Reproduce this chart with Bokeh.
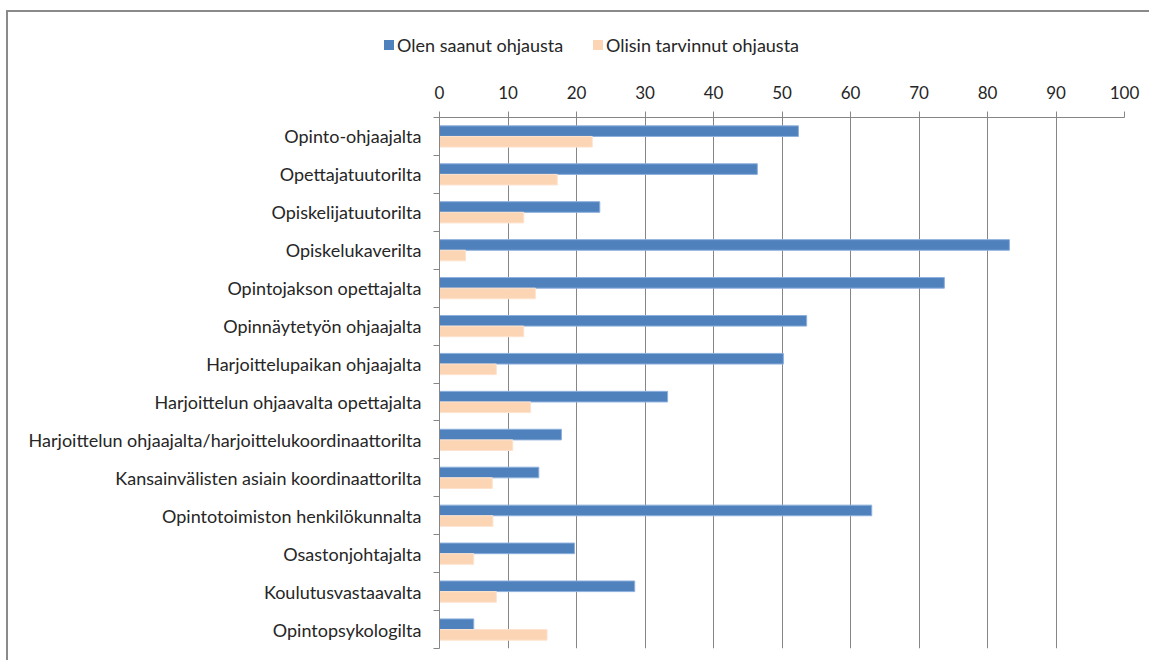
from bokeh.plotting import figure
from bokeh.layouts import column
from bokeh.models import Range1d, FixedTicker, Div
from bokeh.embed import file_html
from bokeh.resources import INLINE

categories = [
    "Opinto-ohjaajalta",
    "Opettajatuutorilta",
    "Opiskelijatuutorilta",
    "Opiskelukaverilta",
    "Opintojakson opettajalta",
    "Opinnäytetyön ohjaajalta",
    "Harjoittelupaikan ohjaajalta",
    "Harjoittelun ohjaavalta opettajalta",
    "Harjoittelun ohjaajalta/harjoittelukoordinaattorilta",
    "Kansainvälisten asiain koordinaattorilta",
    "Opintotoimiston henkilökunnalta",
    "Osastonjohtajalta",
    "Koulutusvastaavalta",
    "Opintopsykologilta",
]
saanut = [52.4, 46.4, 23.4, 83.2, 73.7, 53.6, 50.2, 33.3, 17.8, 14.5, 63.1, 19.7, 28.5, 5.0]
tarvinnut = [22.3, 17.2, 12.3, 3.8, 14.0, 12.3, 8.3, 13.3, 10.7, 7.7, 7.8, 5.0, 8.3, 15.7]
series_names = ["Olen saanut ohjausta", "Olisin tarvinnut ohjausta"]
x_ticks = list(range(0, 101, 10))

FONT = "Lato"
BLUE = "#4F81BD"
PEACH = "#FCD5B5"
GRAY = "#868686"
TXT = "#262626"
series_colors = [BLUE, PEACH]

n = len(categories)
centers = [n - 1 - i for i in range(n)]
y_blue = [c + 0.14 for c in centers]
y_peach = [c - 0.14 for c in centers]

# main chart
p = figure(width=1141, height=582, output_backend="svg", toolbar_location=None,
           x_range=Range1d(0, 100), y_range=Range1d(-0.5, n - 0.5),
           x_axis_location="above", min_border_left=431, min_border_right=25,
           min_border_top=39, min_border_bottom=12)
p.outline_line_color = None

p.hbar(y=y_blue, right=saanut, left=0, height=0.28,
       fill_color=BLUE, line_color="#8DB0DD", line_width=1)
p.hbar(y=y_peach, right=tarvinnut, left=0, height=0.28,
       fill_color=PEACH, line_color="#FDE3CF", line_width=1)

xa = p.xaxis[0]
xa.ticker = FixedTicker(ticks=x_ticks, minor_ticks=[])
xa.axis_line_color = GRAY
xa.major_tick_line_color = GRAY
xa.major_tick_out = 6
xa.major_tick_in = 0
xa.minor_tick_line_color = None
xa.major_label_standoff = 13
xa.major_label_text_font = FONT
xa.major_label_text_font_size = "17px"
xa.major_label_text_color = TXT

ya = p.yaxis[0]
ya.ticker = FixedTicker(ticks=centers, minor_ticks=[c - 0.5 for c in centers] + [n - 0.5])
ya.major_label_overrides = {c: categories[i] for i, c in enumerate(centers)}
ya.axis_line_color = GRAY
ya.major_tick_line_color = None
ya.major_tick_out = 0
ya.major_tick_in = 0
ya.minor_tick_line_color = GRAY
ya.minor_tick_out = 6
ya.minor_tick_in = 0
ya.major_label_standoff = 12
ya.major_label_text_font = FONT
ya.major_label_text_font_size = "18px"
ya.major_label_text_color = TXT

p.xgrid.ticker = FixedTicker(ticks=x_ticks[1:])
p.xgrid.grid_line_color = GRAY
p.ygrid.grid_line_color = None

# legend strip above the chart (HTML)
sq_left = [376, 585]
items = ""
for name, col, sx in zip(series_names, series_colors, sq_left):
    items += (f'<span style="position:absolute;left:{sx}px;top:28px;width:10px;height:10px;'
              f'background:{col};"></span>'
              f'<span style="position:absolute;left:{sx + 13}px;top:21px;line-height:24px;'
              f'white-space:nowrap;">{name}</span>')
legend_html = (f'<div style="position:relative;width:1141px;height:66px;font-family:{FONT};'
               f'font-size:18px;color:{TXT};">{items}</div>')
legend_div = Div(text=legend_html, width=1141, height=66, margin=0)

layout = column(legend_div, p, spacing=0, margin=(10, 0, 0, 6),
                styles={"border-top": "2px solid #8a8a8a", "border-left": "2px solid #8a8a8a"})

open("out.html", "w").write(file_html(layout, INLINE))
